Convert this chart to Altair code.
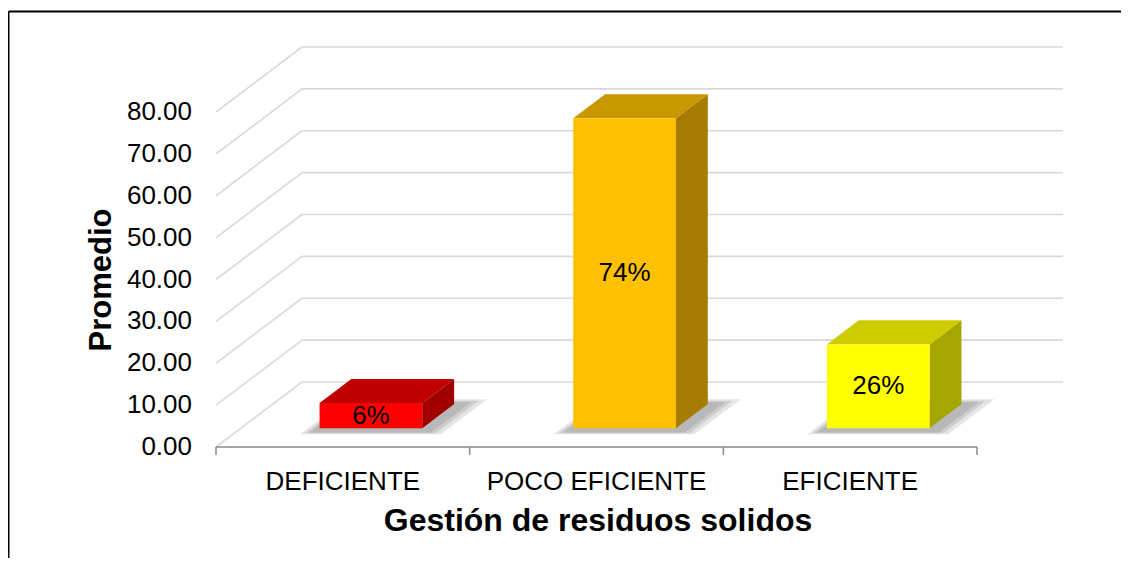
import altair as alt
import pandas as pd

# ---------------- data ----------------
categories = ["DEFICIENTE", "POCO EFICIENTE", "EFICIENTE"]
values = [6, 74, 20]
value_labels = ["6%", "74%", "26%"]
front_colors = ["#FF0000", "#FFC000", "#FFFF00"]
top_colors = ["#C00000", "#C99700", "#CCCC00"]
side_colors = ["#A00000", "#A67C00", "#A6A600"]
tick_values = [0, 10, 20, 30, 40, 50, 60, 70, 80]
tick_labels = ["%.2f" % v for v in tick_values]
y_title = "Promedio"
x_title = "Gestión de residuos solidos"

# ---------------- layout (pixel anchors -> data units) ----------------
W, H = 1113, 550
KX = 761 / 3.0          # px per category unit along the front floor
KY = 335 / 80.0         # px per value unit
X0_PX, Y0_PX = 216 - 8, 447 - 8   # front-floor origin inside the plot area
umin = -X0_PX / KX
umax = umin + W / KX
vmax = Y0_PX / KY
vmin = vmax - H / KY
DX = 86 / KX            # full depth offset
DY = 65 / KY
F0, F1 = 0.29, 0.66     # bar depth (front, back) as fraction of floor depth
BAR_OFF, BAR_W = 0.31, 0.405

def ux(px):
    return (px - 216) / KX

def vy(py):
    return (447 - py) / KY

xs = alt.Scale(domain=[umin, umax], nice=False, zero=False)
ys = alt.Scale(domain=[vmin, vmax], nice=False, zero=False)

def X(f="x"):
    return alt.X(f"{f}:Q", scale=xs, axis=None)

def Y(f="y"):
    return alt.Y(f"{f}:Q", scale=ys, axis=None)

# border frame: only top and left edges are inside the picture
bx, by = ux(8.5), vy(11.5)
border = pd.DataFrame([
    {"x": bx, "x2": umax, "y": by, "y2": by},
    {"x": bx, "x2": bx, "y": by, "y2": vmin},
])
border_l = alt.Chart(border).mark_rule(color="#000000", strokeWidth=2).encode(
    x=X(), x2="x2:Q", y=Y(), y2="y2:Q")

# back wall gridlines and side wall diagonals
grid = pd.DataFrame({"v": tick_values})
grid["x"] = DX
grid["x2"] = 3 + DX
grid["y"] = grid["v"] + DY
grid["dx"] = 0.0
grid["dy"] = grid["v"]
back_l = alt.Chart(grid).mark_rule(color="#D9D9D9", strokeWidth=1.6).encode(
    x=X(), x2="x2:Q", y=Y(), y2="y:Q")
side_l = alt.Chart(grid).mark_rule(color="#D9D9D9", strokeWidth=1.6).encode(
    x=X("dx"), x2="x:Q", y=Y("dy"), y2="y:Q")

# front floor axis line and ticks
axis_df = pd.DataFrame([{"x": 0.0, "x2": 3.0, "y": 0.0}])
axis_l = alt.Chart(axis_df).mark_rule(color="#898989", strokeWidth=1.5).encode(
    x=X(), x2="x2:Q", y=Y())
ticks_df = pd.DataFrame({"x": [0.0, 1.0, 2.0, 3.0]})
ticks_df["y"] = 0.0
ticks_df["y2"] = vy(455)
ticks_l = alt.Chart(ticks_df).mark_rule(color="#898989", strokeWidth=1.5).encode(
    x=X(), y=Y(), y2="y2:Q")

# bar geometry
front_rows, top_rows, side_rows, shadow_rows, label_rows = [], [], [], [], []
for i, (c, v, lab) in enumerate(zip(categories, values, value_labels)):
    a = i + BAR_OFF
    b = a + BAR_W
    fx0, fy0 = F0 * DX, F0 * DY
    fx1, fy1 = F1 * DX, F1 * DY
    front_rows.append({"x": a + fx0, "x2": b + fx0, "y": fy0, "y2": fy0 + v, "c": front_colors[i]})
    top_rows.append({"id": i, "y": fy0 + v, "x": a + fx0, "x2": b + fx0, "c": top_colors[i]})
    top_rows.append({"id": i, "y": fy1 + v, "x": a + fx1, "x2": b + fx1, "c": top_colors[i]})
    side_rows.append({"id": i, "x": b + fx0, "y": fy0, "y2": fy0 + v, "c": side_colors[i]})
    side_rows.append({"id": i, "x": b + fx1, "y": fy1, "y2": fy1 + v, "c": side_colors[i]})
    for k, e in enumerate([0.075, 0.05, 0.028]):
        d0, d1 = F0 - 0.05 - e * 0.6, F1 + e
        shadow_rows.append({"id": f"{i}-{k}", "y": d0 * DY, "x": a - e * 0.6 + d0 * DX,
                            "x2": b + e + 0.03 + d0 * DX})
        shadow_rows.append({"id": f"{i}-{k}", "y": d1 * DY, "x": a - e * 0.6 + d1 * DX,
                            "x2": b + e + 0.03 + d1 * DX})
    label_rows.append({"x": (a + b) / 2 + fx0, "y": fy0 + v / 2, "t": lab})

shadow_l = alt.Chart(pd.DataFrame(shadow_rows)).mark_area(
    orient="horizontal", color="#000000", opacity=0.1).encode(
    y=Y(), x=X(), x2="x2:Q", detail="id:N")
side_f = alt.Chart(pd.DataFrame(side_rows)).mark_area(orient="vertical").encode(
    x=X(), y=Y(), y2="y2:Q", detail="id:N", color=alt.Color("c:N", scale=None))
top_f = alt.Chart(pd.DataFrame(top_rows)).mark_area(orient="horizontal").encode(
    y=Y(), x=X(), x2="x2:Q", detail="id:N", color=alt.Color("c:N", scale=None))
front_f = alt.Chart(pd.DataFrame(front_rows)).mark_rect().encode(
    x=X(), x2="x2:Q", y=Y(), y2="y2:Q", color=alt.Color("c:N", scale=None))
bar_text = alt.Chart(pd.DataFrame(label_rows)).mark_text(
    font="Liberation Sans", fontSize=26, color="#000000", baseline="middle", align="center").encode(
    x=X(), y=Y(), text="t:N")

# y axis labels
ylab = pd.DataFrame({"y": tick_values, "t": tick_labels})
ylab["x"] = ux(192)
ylab_l = alt.Chart(ylab).mark_text(
    font="Liberation Sans", fontSize=26, align="right", baseline="middle", color="#000000").encode(
    x=X(), y=Y(), text="t:N")

# x category labels
xlab = pd.DataFrame({"x": [i + 0.5 for i in range(len(categories))], "t": categories})
xlab["y"] = vy(490)
xlab_l = alt.Chart(xlab).mark_text(
    font="Liberation Sans", fontSize=26, align="center", baseline="alphabetic", color="#000000").encode(
    x=X(), y=Y(), text="t:N")

# titles
xt = pd.DataFrame([{"x": ux(598), "y": vy(531), "t": x_title}])
xt_l = alt.Chart(xt).mark_text(
    font="Liberation Sans", fontSize=32, fontWeight="bold", align="center",
    baseline="alphabetic", color="#000000").encode(x=X(), y=Y(), text="t:N")
yt = pd.DataFrame([{"x": ux(111), "y": vy(280), "t": y_title}])
yt_l = alt.Chart(yt).mark_text(
    font="Liberation Sans", fontSize=31, fontWeight="bold", align="center",
    baseline="alphabetic", angle=270, color="#000000").encode(x=X(), y=Y(), text="t:N")

chart = alt.layer(
    back_l, side_l, axis_l, ticks_l, shadow_l, side_f, top_f, front_f, bar_text,
    ylab_l, xlab_l, xt_l, yt_l, border_l
).properties(
    width=W, height=H, padding=0, autosize=alt.AutoSizeParams(type="none")
).configure_view(strokeWidth=0)

chart.save("out.html", embed_options={"renderer": "svg", "actions": False})
